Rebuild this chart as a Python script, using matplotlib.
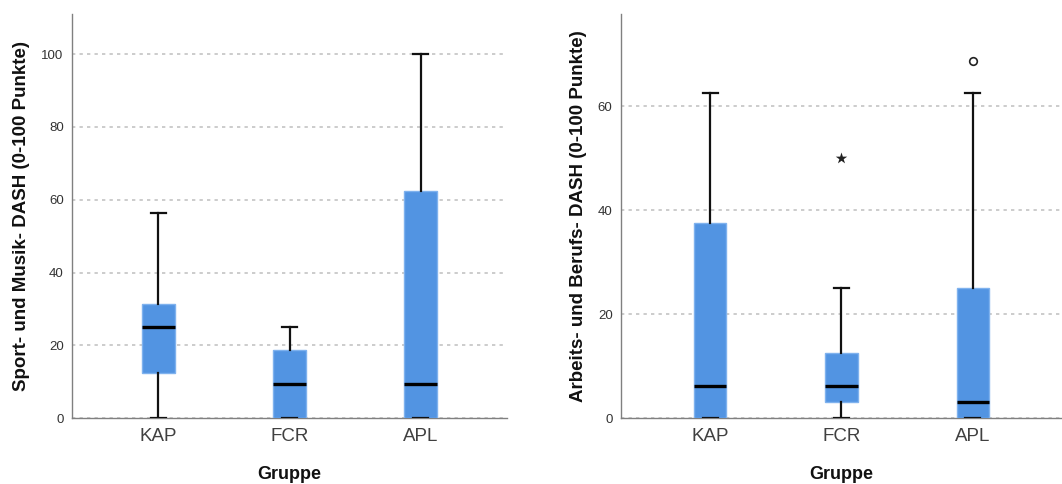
#!/usr/bin/env python
"""
Boxplots of DASH module scores per group (Sport/Musik and Arbeit/Beruf)
"""
import matplotlib
matplotlib.use('Agg')
import matplotlib.pyplot as plt

groups = ['KAP', 'FCR', 'APL']

# Sport- und Musik-Modul
sport_low = [0, 0, 0]
sport_q1 = [12.5, 0, 0]
sport_med = [25, 9.375, 9.375]
sport_q3 = [31.25, 18.75, 62.5]
sport_high = [56.25, 25, 100]

# Arbeits- und Berufs-Modul
work_low = [0, 0, 0]
work_q1 = [0, 3.125, 0]
work_med = [6.25, 6.25, 3.125]
work_q3 = [37.5, 12.5, 25]
work_high = [62.5, 25, 62.5]
work_extreme = [[], [50], []]   # marked with *
work_outlier = [[], [], [68.75]]  # marked with o

BOX_COLOR = '#5294e2'
GRID_COLOR = '#c4c4c4'
TEXT_COLOR = '#333333'


def make_stats(low, q1, med, q3, high):
    stats = []
    for i in range(len(groups)):
        stats.append(dict(whislo=low[i], q1=q1[i], med=med[i], q3=q3[i],
                          whishi=high[i], fliers=[], label=groups[i]))
    return stats


def draw(ax, stats, ylabel, ylim, yticks, xlim):
    ax.bxp(stats, positions=[1, 2, 3], widths=0.245, patch_artist=True,
           showfliers=False,
           boxprops=dict(facecolor=BOX_COLOR, edgecolor='#7fb2ee',
                         linewidth=1.0),
           medianprops=dict(color='black', linewidth=2.4, solid_capstyle='butt'),
           whiskerprops=dict(color='#111111', linewidth=1.6),
           capprops=dict(color='#111111', linewidth=1.6),
           capwidths=0.115, zorder=3)
    ax.set_xlim(*xlim)
    ax.set_ylim(*ylim)
    ax.set_yticks(yticks)
    ax.yaxis.grid(True, color=GRID_COLOR, linestyle=(0, (2, 2.5)),
                  linewidth=1.2)
    ax.set_axisbelow(True)
    for side in ['top', 'right']:
        ax.spines[side].set_visible(False)
    for side in ['left', 'bottom']:
        ax.spines[side].set_color('#808080')
        ax.spines[side].set_linewidth(1.0)
    ax.tick_params(axis='both', length=0)
    ax.tick_params(axis='y', labelsize=9.5, labelcolor=TEXT_COLOR, pad=6)
    ax.tick_params(axis='x', labelsize=13.5, labelcolor='#404040', pad=7)
    ax.set_ylabel(ylabel, fontsize=13.5, fontweight='bold', color='#111111',
                  labelpad=8)
    ax.set_xlabel('Gruppe', fontsize=13, fontweight='bold', color='#111111',
                  labelpad=15)


fig = plt.figure(figsize=(10.62, 4.84), dpi=100)
plt.rcParams['font.family'] = ['Liberation Sans', 'DejaVu Sans']

ax1 = fig.add_axes([0.0678, 0.136, 0.4096, 0.835])
draw(ax1, make_stats(sport_low, sport_q1, sport_med, sport_q3, sport_high),
     'Sport- und Musik- DASH (0-100 Punkte)', (0, 111),
     [0, 20, 40, 60, 80, 100], (0.34, 3.66))

ax2 = fig.add_axes([0.5847, 0.136, 0.4153, 0.835])
draw(ax2, make_stats(work_low, work_q1, work_med, work_q3, work_high),
     'Arbeits- und Berufs- DASH (0-100 Punkte)', (0, 77.7),
     [0, 20, 40, 60], (0.32, 3.68))
for i, vals in enumerate(work_extreme):
    for v in vals:
        ax2.scatter([i + 1], [v], marker='*', s=75, color='#222222',
                    linewidths=0, zorder=4)
for i, vals in enumerate(work_outlier):
    for v in vals:
        ax2.scatter([i + 1], [v], marker='o', s=30, facecolor='white',
                    edgecolor='#222222', linewidths=1.2, zorder=4)

fig.savefig('out.png', dpi=100)
